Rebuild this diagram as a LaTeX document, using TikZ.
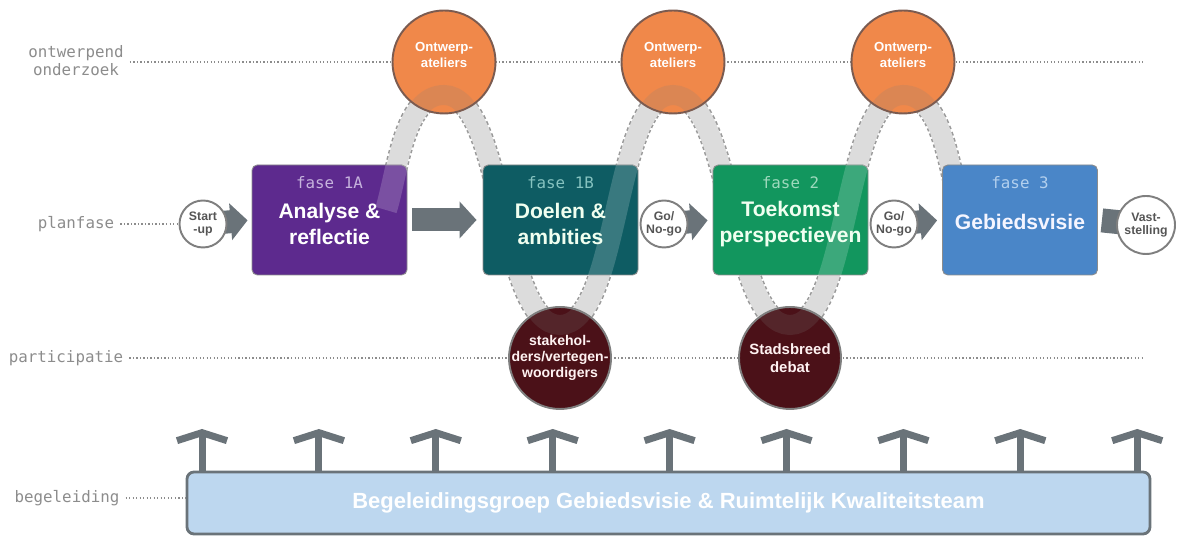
\documentclass[tikz,border=0pt]{standalone}
\usepackage{fontspec}
\setmainfont{Liberation Sans}
\newfontfamily\labelfont{DejaVu Sans Mono}
\usetikzlibrary{arrows.meta}

\definecolor{labelgrey}{HTML}{8C8C8C}
\definecolor{arrowgrey}{HTML}{6A7379}
\definecolor{bandfill}{HTML}{DCDCDC}
\definecolor{bandedge}{HTML}{9A9A9A}
\definecolor{gategrey}{HTML}{7F7F7F}
\definecolor{gatetext}{HTML}{555555}
\definecolor{faseA}{HTML}{5D2A8E}
\definecolor{faseB}{HTML}{0E5C63}
\definecolor{faseC}{HTML}{12965E}
\definecolor{faseD}{HTML}{4A86C8}
\definecolor{tagA}{HTML}{C6B3DD}
\definecolor{tagB}{HTML}{86C3C0}
\definecolor{tagC}{HTML}{9ED9BD}
\definecolor{tagD}{HTML}{B3D0EE}
\definecolor{orangefill}{HTML}{F0884A}
\definecolor{orangeedge}{HTML}{7B5B50}
\definecolor{maroonfill}{HTML}{4B1118}
\definecolor{barfill}{HTML}{BDD7EF}

\pgfdeclarelayer{back}
\pgfsetlayers{back,main}

\begin{document}
\begin{tikzpicture}[
    rowlabel/.style={font=\labelfont\fontsize{9}{10.2}\selectfont, text=labelgrey, align=center},
    dots/.style={labelgrey, line width=0.9pt, dash pattern=on 0.7pt off 1.3pt},
    fasebox/.style={draw=black!45, line width=0.5pt, rounded corners=3pt,
      minimum width=3.1cm, minimum height=2.2cm},
    fasetag/.style={font=\labelfont\fontsize{9}{10}\selectfont},
    fasetitle/.style={font=\bfseries\fontsize{12}{14.5}\selectfont, align=center},
    gate/.style={circle, draw=gategrey, line width=1.1pt, fill=white, inner sep=0pt,
      minimum size=0.94cm, font=\bfseries\fontsize{7}{7.5}\selectfont, text=gatetext, align=center},
    atelier/.style={circle, draw=orangeedge, line width=1.1pt, fill=orangefill, minimum size=2.06cm},
    forum/.style={circle, draw=gategrey, line width=1.1pt, fill=maroonfill, minimum size=2.04cm},
    circletext/.style={font=\bfseries\fontsize{7.5}{9.5}\selectfont, text=white, align=center},
    forumtext/.style={font=\bfseries\fontsize{8}{9}\selectfont, text=red!5, align=center},
    blockarrow/.style={arrowgrey, line width=0.46cm, -{Triangle[length=0.34cm, width=0.72cm]}},
    uparrow/.style={arrowgrey, line width=0.14cm, -{Straight Barb[length=0.16cm, width=1cm]}},
    barbox/.style={draw=arrowgrey, line width=1.6pt, fill=barfill, rounded corners=4pt,
      minimum width=19.26cm, minimum height=1.24cm, text=white,
      font=\bfseries\fontsize{12.5}{14}\selectfont},
    waveseg/.style={out=0, in=180, looseness=0.6}
  ]
  \useasboundingbox (0,0) rectangle (23.54,10.72);

  % row labels
  \node[rowlabel] (lo) at (1.52,9.5) {ontwerpend\\onderzoek};
  \node[rowlabel] (lp) at (1.52,6.24) {planfase};
  \node[rowlabel] (lq) at (1.32,3.56) {participatie};
  \node[rowlabel] (lb) at (1.34,0.76) {begeleiding};
  \coordinate (oend) at (22.86,9.48);
  \coordinate (qend) at (22.86,3.56);

  % band through the rows
  \coordinate (bs) at (7.72,6.52); \coordinate (a1) at (8.88,8.82);
  \coordinate (t1) at (11.2,4.22); \coordinate (a2) at (13.46,8.82);
  \coordinate (t2) at (15.8,4.22); \coordinate (a3) at (18.06,8.82);
  \coordinate (be) at (19.22,6.52);

  % planfase
  \node[gate] (su) at (4.06,6.24) {Start\\-up};
  \node[fasebox, fill=faseA] (fa) at (6.59,6.32) {};
  \node[fasebox, fill=faseB] (fb) at (11.21,6.32) {};
  \node[gate] (go1) at (13.28,6.24) {Go/\\No-go};
  \node[fasebox, fill=faseC] (fc) at (15.81,6.32) {};
  \node[gate] (go2) at (17.88,6.24) {Go/\\No-go};
  \node[fasebox, fill=faseD] (fd) at (20.4,6.32) {};
  \node[gate, minimum size=1.16cm] (vs) at (22.92,6.22) {Vast-\\stelling};

  \begin{pgfonlayer}{back}
    \draw[dots] (lo.east |- oend) -- (oend);
    \draw[dots] (lq.east) -- (qend);
    \draw[dots] (lp.east) -- (su.west);
    \draw[bandedge, line width=0.46cm, dash pattern=on 2pt off 1.5pt]
      (bs) to[out=73, in=180, looseness=0.8] (a1) to[waveseg] (t1) to[waveseg] (a2)
      to[waveseg] (t2) to[waveseg] (a3) to[out=0, in=107, looseness=0.8] (be);
    \draw[bandfill, line width=0.4cm]
      (bs) to[out=73, in=180, looseness=0.8] (a1) to[waveseg] (t1) to[waveseg] (a2)
      to[waveseg] (t2) to[waveseg] (a3) to[out=0, in=107, looseness=0.8] (be);
    \draw[blockarrow, shorten >=0.08cm] (su.center) -- (fa.west);
    \draw[blockarrow, shorten <=0.1cm, shorten >=0.12cm] (fa.east) -- (fb.west);
    \draw[blockarrow, shorten >=0.1cm] (go1.center) -- (fc.west);
    \draw[blockarrow, shorten >=0.1cm] (go2.center) -- (fd.west);
    \draw[arrowgrey, line width=0.48cm, shorten <=0.08cm] (fd.east) -- (vs.center);
  \end{pgfonlayer}

  % rising parts of the band lie over the boxes
  \begin{scope}
    \clip (fa.south west) rectangle (fa.north east) (fb.south west) rectangle (fb.north east)
      (fc.south west) rectangle (fc.north east);
    \draw[white, opacity=0.18, line width=0.44cm]
      (bs) to[out=73, in=180, looseness=0.8] (a1) (t1) to[waveseg] (a2) (t2) to[waveseg] (a3);
  \end{scope}

  \node[fasetag, text=tagA] (ta) at ([yshift=-0.36cm]fa.north) {fase 1A};
  \node[fasetitle, text=white] (na) at ([yshift=-0.08cm]fa.center) {Analyse \&\\reflectie};
  \node[fasetag, text=tagB] (tb) at ([yshift=-0.36cm]fb.north) {fase 1B};
  \node[fasetitle, text=green!6] (nb) at ([yshift=-0.08cm]fb.center) {Doelen \&\\ambities};
  \node[fasetag, text=tagC] (tc) at ([yshift=-0.36cm]fc.north) {fase 2};
  \node[fasetitle, text=green!6] (nc) at ([yshift=-0.08cm]fc.center) {Toekomst\\perspectieven};
  \node[fasetag, text=tagD] (td) at ([yshift=-0.36cm]fd.north) {fase 3};
  \node[fasetitle, text=blue!4] (nd) at ([yshift=-0.04cm]fd.center) {Gebiedsvisie};

  % ontwerpend onderzoek and participatie
  \node[atelier] (ow1) at (8.88,9.48) {};
  \node[atelier] (ow2) at (13.46,9.48) {};
  \node[atelier] (ow3) at (18.06,9.48) {};
  \node[forum] (pa1) at (11.2,3.56) {};
  \node[forum] (pa2) at (15.8,3.56) {};
  \begin{scope}
    \clip (ow1) circle[radius=1.01cm] (ow2) circle[radius=1.01cm] (ow3) circle[radius=1.01cm]
      (pa1) circle[radius=1cm] (pa2) circle[radius=1cm];
    \draw[gray, opacity=0.18, line width=0.4cm]
      (bs) to[out=73, in=180, looseness=0.8] (a1) to[waveseg] (t1) to[waveseg] (a2)
      to[waveseg] (t2) to[waveseg] (a3) to[out=0, in=107, looseness=0.8] (be);
  \end{scope}
  \foreach \n in {1,2,3}
    \node[circletext] (owt\n) at ([yshift=0.14cm]ow\n.center) {Ontwerp-\\ateliers};
  \node[forumtext] (pat1) at (pa1) {stakehol-\\ders/vertegen-\\woordigers};
  \node[forumtext, font=\bfseries\fontsize{8.5}{10}\selectfont] (pat2) at (pa2) {Stadsbreed\\debat};

  % begeleiding
  \node[barbox] (bg) at (13.37,0.66) {Begeleidingsgroep Gebiedsvisie \& Ruimtelijk Kwaliteitsteam};
  \draw[dots] (lb.east) -- (bg.west |- lb.east);
  \foreach \i in {0,...,8} {
    \pgfmathsetmacro\ax{4.04+2.338*\i}
    \coordinate (up\i) at (\ax,2.14);
    \draw[uparrow] (bg.north -| up\i) -- (up\i);
  }
\end{tikzpicture}
\end{document}
